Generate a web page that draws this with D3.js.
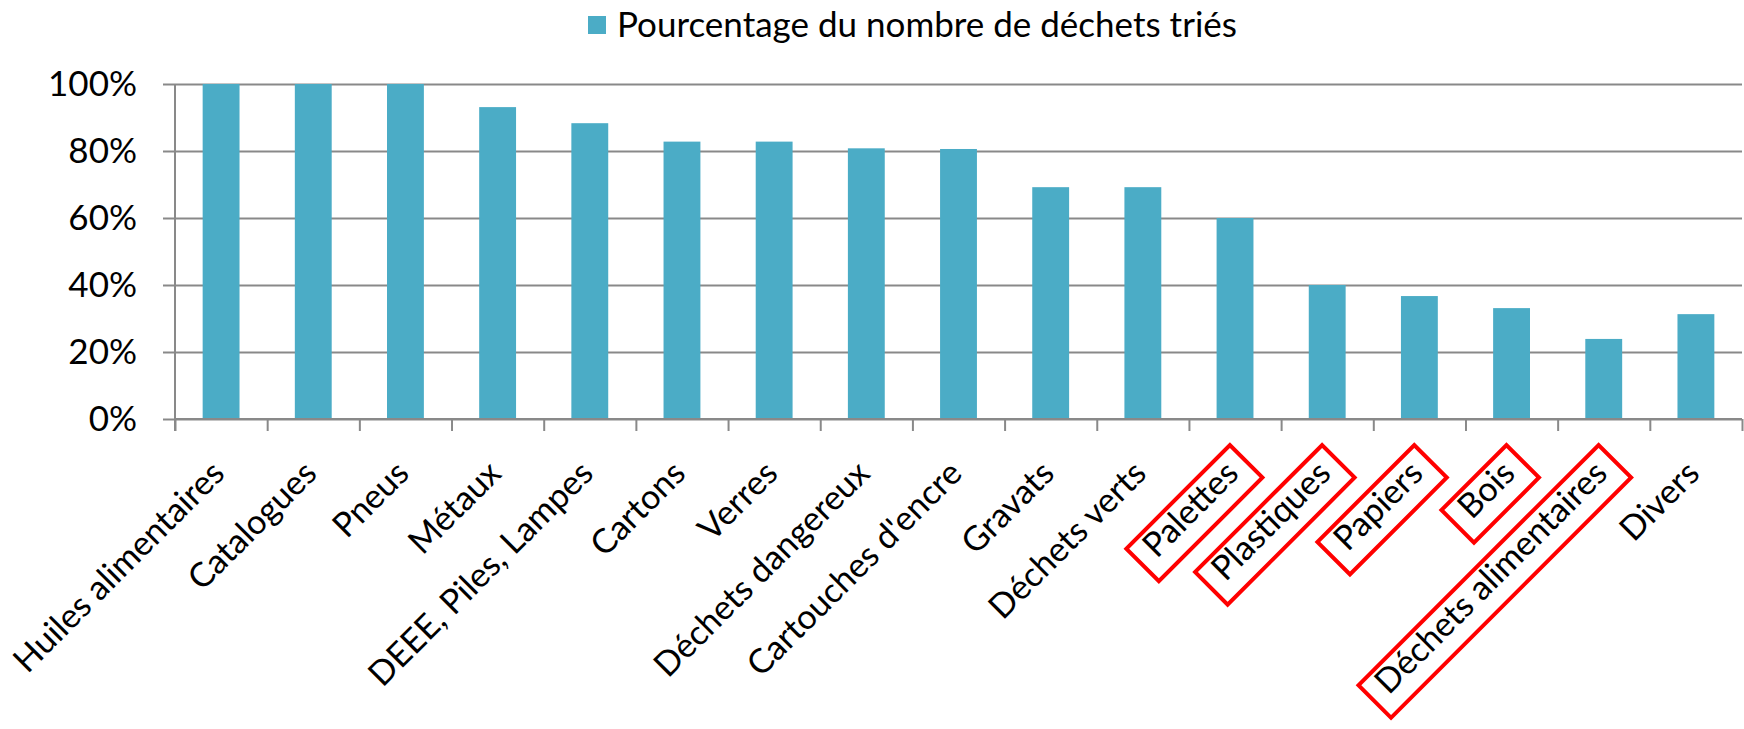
<!DOCTYPE html>
<html>
<head>
<meta charset="utf-8">
<script src="https://cdn.jsdelivr.net/npm/d3@7"></script>
<style>
  body { margin: 0; background: #fff; }
  svg { display: block; font-family: Lato, "Open Sans", sans-serif; }
</style>
</head>
<body>
<script>
// data
var categories = ['Huiles alimentaires', 'Catalogues', 'Pneus', 'Métaux', 'DEEE, Piles, Lampes',
  'Cartons', 'Verres', 'Déchets dangereux', "Cartouches d'encre", 'Gravats', 'Déchets verts',
  'Palettes', 'Plastiques', 'Papiers', 'Bois', 'Déchets alimentaires', 'Divers']
var values = [100, 100, 100, 93.1, 88.3, 82.8, 82.8, 80.8, 80.6, 69.2, 69.2, 60, 40, 36.7, 33.1, 23.9, 31.3]
var boxed = ['Palettes', 'Plastiques', 'Papiers', 'Bois', 'Déchets alimentaires']
var yTicks = [0, 20, 40, 60, 80, 100]
var seriesName = 'Pourcentage du nombre de déchets triés'

var W = 1744, H = 729
var mLeft = 175, mRight = 1742, mTop = 84, mBottom = 419
var fontSize = 35, labelSize = 34

var svg = d3.select('body').append('svg')
	.attr('width', W)
	.attr('height', H)

var x = d3.scaleBand().domain(categories).range([mLeft, mRight]).padding(0)
var xTick = d3.scaleLinear().domain([0, categories.length]).range([mLeft, mRight])
var y = d3.scaleLinear().domain([0, 100]).range([mBottom, mTop])

// gridlines
svg.append('g')
	.attr('transform', 'translate(' + mLeft + ',0)')
	.call(d3.axisLeft(y).tickValues(yTicks).tickSize(-(mRight - mLeft)).tickFormat(''))
	.call(function(g) {
		g.select('.domain').remove()
		g.selectAll('line').attr('stroke', '#898989').attr('stroke-width', 2)
	})

// bars
var barW = x.bandwidth() * 0.4
svg.append('g').selectAll('rect')
	.data(values)
	.enter()
	.append('rect')
	.attr('x', function(d, i) { return x(categories[i]) + (x.bandwidth() - barW) / 2 })
	.attr('y', function(d) { return y(d) })
	.attr('width', barW)
	.attr('height', function(d) { return y(0) - y(d) })
	.attr('fill', '#4BACC6')

// y axis
svg.append('g')
	.attr('transform', 'translate(' + mLeft + ',0)')
	.call(d3.axisLeft(y).tickValues(yTicks).tickSize(12).tickPadding(26)
		.tickFormat(function(d) { return d + '%' }))
	.call(function(g) {
		g.select('.domain').attr('stroke', '#898989').attr('stroke-width', 2)
			.attr('d', 'M0,' + mTop + 'V' + (mBottom + 12))
		g.selectAll('line').attr('stroke', '#898989').attr('stroke-width', 2)
		g.selectAll('text').attr('font-size', fontSize).attr('fill', '#000')
			.attr('font-family', 'Lato, sans-serif')
	})

// x axis ticks at category boundaries
svg.append('g')
	.attr('transform', 'translate(0,' + mBottom + ')')
	.call(d3.axisBottom(xTick).tickValues(d3.range(categories.length + 1)).tickSize(12).tickFormat(''))
	.call(function(g) {
		g.select('.domain').attr('stroke', '#898989').attr('stroke-width', 2)
			.attr('d', 'M' + mLeft + ',0H' + mRight)
		g.selectAll('line').attr('stroke', '#898989').attr('stroke-width', 2)
	})

// rotated category labels
var labels = svg.append('g').selectAll('g')
	.data(categories)
	.enter()
	.append('g')
	.attr('transform', function(d) {
		return 'translate(' + (x(d) + x.bandwidth() / 2 - 3) + ',' + (mBottom + 48) + ') rotate(-45)'
	})

labels.append('text')
	.attr('text-anchor', 'end')
	.attr('dy', '0.35em')
	.attr('font-size', labelSize)
	.attr('fill', '#000')
	.text(function(d) { return d })

// red frames round some labels
labels.filter(function(d) { return boxed.indexOf(d) >= 0 })
	.each(function() {
		var len = this.querySelector('text').getComputedTextLength()
		d3.select(this).insert('rect', 'text')
			.attr('x', -len - 14)
			.attr('y', -17)
			.attr('width', len + 28)
			.attr('height', 46)
			.attr('fill', 'none')
			.attr('stroke', '#FF0000')
			.attr('stroke-width', 4)
	})

// legend
var legend = svg.append('g').attr('transform', 'translate(588,16)')
legend.append('rect')
	.attr('width', 18)
	.attr('height', 18)
	.attr('fill', '#4BACC6')
legend.append('text')
	.attr('x', 29)
	.attr('y', 9)
	.attr('dy', '0.35em')
	.attr('font-size', fontSize)
	.attr('fill', '#000')
	.text(seriesName)
</script>
</body>
</html>
